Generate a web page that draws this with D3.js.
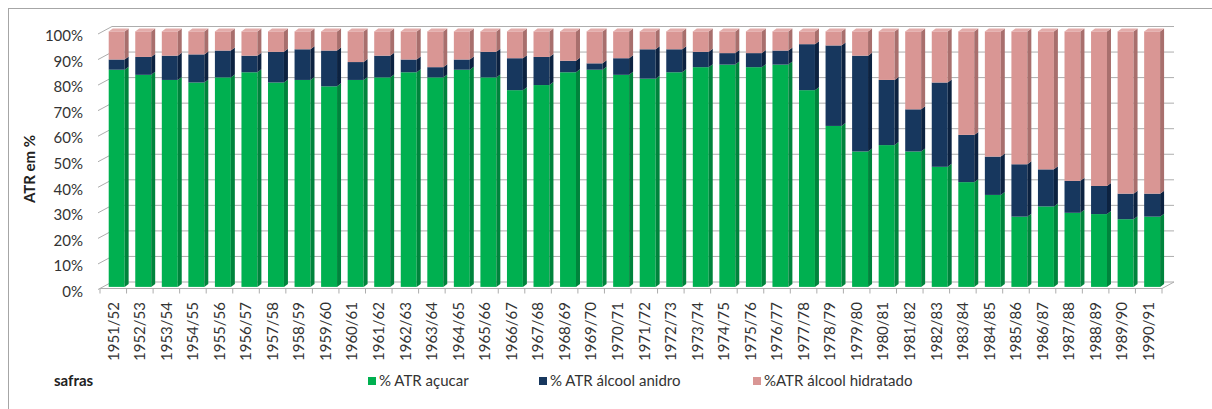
<!DOCTYPE html>
<html>
<head>
<meta charset="utf-8">
<script src="https://cdn.jsdelivr.net/npm/d3@7"></script>
<style>
  body { margin: 0; background: #fff; }
  svg { display: block; font-family: Lato, "Open Sans", sans-serif; }
</style>
</head>
<body>
<svg id="chart" width="1212" height="409"></svg>
<script>
// Harvest seasons (safras)
const safras = [
  "1951/52","1952/53","1953/54","1954/55","1955/56","1956/57","1957/58","1958/59","1959/60","1960/61",
  "1961/62","1962/63","1963/64","1964/65","1965/66","1966/67","1967/68","1968/69","1969/70","1970/71",
  "1971/72","1972/73","1973/74","1974/75","1975/76","1976/77","1977/78","1978/79","1979/80","1980/81",
  "1981/82","1982/83","1983/84","1984/85","1985/86","1986/87","1987/88","1988/89","1989/90","1990/91"
];

// Share of ATR (%) going to sugar
const acucar = [
  85, 83, 81, 80, 82, 84, 80, 81, 78.5, 81,
  82, 84, 82, 85, 82, 77, 79, 84, 85, 83,
  81.5, 84, 86, 87, 86, 87, 77, 63, 53, 55.5,
  53, 47, 41, 36, 27.5, 31.5, 29, 28.5, 26.5, 27.5
];

// Share of ATR (%) going to anhydrous ethanol
const anidro = [
  4, 7, 9.5, 11, 10.5, 6.5, 12, 12, 14, 7,
  8.5, 5, 4, 4, 10, 12.5, 11, 4.5, 2.5, 6.5,
  11.5, 9, 6, 4.5, 5.5, 5.5, 18, 31.5, 37.5, 25.5,
  16.5, 33, 18.5, 15, 20.5, 14.5, 12.5, 11, 10, 9
];

// Share of ATR (%) going to hydrated ethanol
const hidratado = [
  11, 10, 9.5, 9, 7.5, 9.5, 8, 7, 7.5, 12,
  9.5, 11, 14, 11, 8, 10.5, 10, 11.5, 12.5, 10.5,
  7, 7, 8, 8.5, 8.5, 7.5, 5, 5.5, 9.5, 19,
  30.5, 20, 40.5, 49, 52, 54, 58.5, 60.5, 63.5, 63.5
];

const seriesKeys = ["acucar", "anidro", "hidratado"];
const seriesNames = ["% ATR açucar", "% ATR álcool anidro", "%ATR álcool hidratado"];
const yTicks = [0, 10, 20, 30, 40, 50, 60, 70, 80, 90, 100];

const fills = {
  acucar:    { front: "#00B050", side: "#00843C", top: "#3CC676" },
  anidro:    { front: "#17375E", side: "#0C2240", top: "#2A4D7A" },
  hidratado: { front: "#D99694", side: "#A86F6D", top: "#E3ACAA" }
};

const rows = safras.map((s, i) => ({
  safra: s, acucar: acucar[i], anidro: anidro[i], hidratado: hidratado[i]
}));
const stacked = d3.stack().keys(seriesKeys)(rows);

const svg = d3.select("#chart");

// front plane of the 3D box
const x = d3.scaleBand().domain(safras).range([100, 1162]).padding(0);
const y = d3.scaleLinear().domain([0, 100]).range([288.5, 33]);

const box = { dx: 12, dy: -6.5 };   // depth of the whole plot box
const barOff = { dx: 3.4, dy: -1.6 }; // bars sit a little behind the front plane
const barDepth = { dx: 4, dy: -3 };
const barW = x.bandwidth() * 0.6;

const gridColor = "#ADADAD";

// outer chart frame
svg.append("rect")
  .attr("x", 8.5).attr("y", 8.5)
  .attr("width", 1230).attr("height", 430)
  .attr("fill", "none").attr("stroke", "#A6A6A6").attr("stroke-width", 1);

const walls = svg.append("g").attr("fill", "none").attr("stroke", gridColor).attr("stroke-width", 1);

// back wall gridlines
walls.selectAll(".back").data(yTicks).join("line")
  .attr("x1", x.range()[0] + box.dx).attr("x2", x.range()[1] + box.dx)
  .attr("y1", d => y(d) + box.dy).attr("y2", d => y(d) + box.dy);

// side wall gridlines (slanted)
walls.selectAll(".side").data(yTicks).join("line")
  .attr("x1", x.range()[0] - 2).attr("x2", x.range()[0] + box.dx)
  .attr("y1", d => y(d) + 1).attr("y2", d => y(d) + box.dy);

// floor front edge and right edge
walls.append("line")
  .attr("x1", x.range()[0]).attr("x2", x.range()[1])
  .attr("y1", y(0)).attr("y2", y(0));
walls.append("line")
  .attr("x1", x.range()[1]).attr("x2", x.range()[1] + box.dx)
  .attr("y1", y(0)).attr("y2", y(0) + box.dy);

// category tick marks at band boundaries
const bounds = safras.map(s => x(s)).concat([x.range()[1]]);
walls.selectAll(".ctick").data(bounds).join("line")
  .attr("x1", d => d).attr("x2", d => d)
  .attr("y1", y(0)).attr("y2", y(0) + 5);

// bars
const gBars = svg.append("g");
stacked.forEach((layer, li) => {
  const key = layer.key;
  const isTop = li === stacked.length - 1;
  const g = gBars.append("g").attr("class", "series-" + key);
  layer.forEach((seg, i) => {
    const s = safras[i];
    const x0 = x(s) + (x.bandwidth() - barW) / 2 + barOff.dx;
    const x1 = x0 + barW;
    const yb = y(seg[0]) + barOff.dy;
    const yt = y(seg[1]) + barOff.dy;
    if (seg[1] - seg[0] <= 0) return;
    // front face
    g.append("rect")
      .attr("x", x0).attr("y", yt)
      .attr("width", barW).attr("height", yb - yt)
      .attr("fill", fills[key].front);
    // right side face
    g.append("polygon")
      .attr("points", [
        [x1, yb], [x1, yt], [x1 + barDepth.dx, yt + barDepth.dy], [x1 + barDepth.dx, yb + barDepth.dy]
      ].map(p => p.join(",")).join(" "))
      .attr("fill", fills[key].side);
    // top face on the last segment
    if (isTop) {
      g.append("polygon")
        .attr("points", [
          [x0, yt], [x1, yt], [x1 + barDepth.dx, yt + barDepth.dy], [x0 + barDepth.dx, yt + barDepth.dy]
        ].map(p => p.join(",")).join(" "))
        .attr("fill", fills[key].top);
    }
  });
});

// y axis labels
const fmt = d => d + "%";
svg.append("g").selectAll("text").data(yTicks).join("text")
  .attr("x", 83).attr("y", d => y(d) + 3)
  .attr("dy", "0.35em")
  .attr("text-anchor", "end")
  .attr("font-size", 15)
  .attr("fill", "#333")
  .text(fmt);

// y axis title
svg.append("text")
  .attr("transform", "translate(30,169) rotate(-90)")
  .attr("dy", "0.35em")
  .attr("text-anchor", "middle")
  .attr("font-size", 15).attr("font-weight", "bold")
  .attr("fill", "#222")
  .text("ATR em %");

// category labels
svg.append("g").selectAll("text").data(safras).join("text")
  .attr("transform", d => `translate(${x(d) + x.bandwidth() / 2},302) rotate(-90)`)
  .attr("dy", "0.35em")
  .attr("text-anchor", "end")
  .attr("font-size", 15)
  .attr("fill", "#333")
  .text(d => d);

// x axis title
svg.append("text")
  .attr("x", 54).attr("y", 381)
  .attr("dy", "0.35em")
  .attr("font-size", 15).attr("font-weight", "bold")
  .attr("fill", "#222")
  .text("safras");

// legend
const legendX = [368, 539, 753];
const lg = svg.append("g").selectAll("g").data(seriesKeys).join("g")
  .attr("transform", (d, i) => `translate(${legendX[i]},381)`);
lg.append("rect")
  .attr("x", 0).attr("y", -4).attr("width", 8).attr("height", 8)
  .attr("fill", d => fills[d].front);
lg.append("text")
  .attr("x", 11).attr("dy", "0.35em")
  .attr("font-size", 15).attr("fill", "#333")
  .text((d, i) => seriesNames[i]);
</script>
</body>
</html>
